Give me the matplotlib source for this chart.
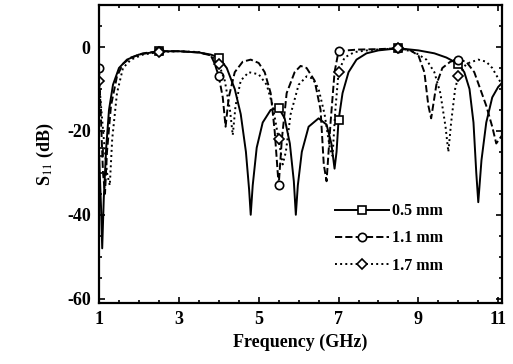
import numpy as np
import matplotlib
matplotlib.use('Agg')
import matplotlib.pyplot as plt
from matplotlib.ticker import MultipleLocator

plt.rcParams['font.family'] = ['Liberation Serif', 'DejaVu Serif']
plt.rcParams['mathtext.fontset'] = 'stix'
plt.rcParams['axes.unicode_minus'] = False

# 0.5 mm (solid, squares)
f05 = [1.0, 1.05, 1.08, 1.12, 1.18, 1.25, 1.35, 1.5, 1.7, 2.0, 2.5, 3.0, 3.5, 3.8, 4.0, 4.2, 4.4, 4.55,
       4.68, 4.76, 4.8, 4.85, 4.95, 5.1, 5.3, 5.5, 5.65, 5.78, 5.88, 5.93, 5.98, 6.08, 6.25, 6.5, 6.7,
       6.82, 6.9, 6.95, 7.0, 7.1, 7.25, 7.45, 7.7, 8.0, 8.5, 9.0, 9.4, 9.7, 10.0, 10.15, 10.28, 10.38,
       10.45, 10.5, 10.58, 10.7, 10.85, 11.0, 11.1]
s05 = [-25, -38, -48, -36, -24, -15, -9, -5, -3, -1.8, -1, -1, -1.3, -1.8, -2.5, -5, -10, -16,
       -25, -34, -40, -33, -24, -18, -15, -14.5, -17, -23, -32, -40, -33, -25, -19, -17, -18.5,
       -23, -29, -25, -17.5, -11, -6, -3, -1.5, -0.8, -0.3, -0.8, -1.5, -2.5, -4, -6, -10, -18,
       -30, -37, -27, -18, -12, -9.5, -8.5]

# 1.1 mm (dashed, circles)
f11 = [1.0, 1.04, 1.1, 1.15, 1.2, 1.3, 1.45, 1.6, 1.8, 2.1, 2.5, 3.0, 3.5, 3.8, 3.9, 4.0, 4.1, 4.17,
       4.25, 4.4, 4.6, 4.8, 5.0, 5.15, 5.3, 5.4, 5.5, 5.58, 5.7, 5.9, 6.05, 6.2, 6.4, 6.55, 6.63, 6.7,
       6.8, 6.9, 7.0, 7.2, 7.5, 8.0, 8.5, 8.8, 9.0, 9.15, 9.25, 9.32, 9.45, 9.6, 9.8, 10.0, 10.2,
       10.4, 10.55, 10.7, 10.85, 10.95, 11.1]
s11 = [-5, -15, -30, -35, -25, -14, -7, -4, -2.5, -1.5, -1, -1, -1.3, -2, -4, -7, -12, -19,
       -12, -6, -3.5, -3, -3.8, -6, -11, -20, -33, -22, -11, -6, -4.5, -5, -8, -15, -28, -32,
       -18, -6, -1, -0.8, -0.6, -0.5, -0.3, -0.8, -2, -6, -14, -17, -9, -5, -3.5, -3, -3.5,
       -6, -10, -14, -19, -23, -21]

# 1.7 mm (dotted, diamonds)
f17 = [1.0, 1.05, 1.12, 1.2, 1.27, 1.33, 1.45, 1.6, 1.8, 2.1, 2.5, 3.0, 3.5, 3.8, 4.0, 4.15, 4.28,
       4.35, 4.42, 4.55, 4.75, 5.0, 5.2, 5.35, 5.5, 5.6, 5.68, 5.8, 6.0, 6.2, 6.35, 6.5, 6.65, 6.78,
       6.85, 6.92, 7.0, 7.15, 7.4, 7.8, 8.5, 8.9, 9.2, 9.4, 9.55, 9.68, 9.75, 9.82, 9.92, 10.0,
       10.2, 10.5, 10.7, 10.85, 11.0, 11.1]
s17 = [-8, -14, -22, -30, -33, -22, -11, -5, -3, -1.8, -1.2, -1, -1.2, -2, -4, -8, -15,
       -21, -14, -8, -6, -6.5, -9, -14, -22, -28, -25, -16, -9, -7, -7.5, -10, -16, -24,
       -26, -15, -6, -2.5, -1.2, -0.7, -0.3, -1.2, -3, -6, -11, -19, -25, -18, -10, -7,
       -4, -3, -3.5, -5, -7.5, -9]

mark_f = [1.0, 2.5, 4.0, 5.5, 7.0, 8.5, 10.0]
labels = ['0.5 mm', '1.1 mm', '1.7 mm']

fig = plt.figure(figsize=(5.13, 3.64), dpi=100)
ax = fig.add_axes([0.193, 0.168, 0.786, 0.818])

series = [(f05, s05, '-', 's'), (f11, s11, '--', 'o'), (f17, s17, ':', 'D')]
for (f, s, ls, mk), lab in zip(series, labels):
    f = np.array(f)
    idx = list(np.where(np.isin(f, mark_f))[0])
    ax.plot(f, s, color='black', ls=ls, lw=1.4, marker=mk, markevery=idx,
            ms=6 if mk != 'D' else 5, mfc='white', mec='black', mew=1.2, label=lab)

ax.set_xlim(1, 11.1)
ax.set_ylim(-61, 10)
ax.set_xticks([1, 3, 5, 7, 9, 11])
ax.set_yticks([0, -20, -40, -60])
ax.xaxis.set_minor_locator(MultipleLocator(0.5))
ax.yaxis.set_minor_locator(MultipleLocator(5))
ax.tick_params(which='both', direction='in', top=True, right=True, labelsize=13, width=1.2)
ax.tick_params(which='major', length=4, pad=6)
ax.tick_params(which='minor', length=2)
for lbl in ax.get_xticklabels() + ax.get_yticklabels():
    lbl.set_fontweight('bold')
for sp in ax.spines.values():
    sp.set_linewidth(1.6)

ax.set_xlabel('Frequency (GHz)', fontsize=13, fontweight='bold', labelpad=4)
ax.set_ylabel('S$_{11}$ (dB)', fontsize=13, fontweight='bold', labelpad=8)

ax.legend(loc='lower right', bbox_to_anchor=(0.89, 0.05), frameon=False,
          prop={'size': 11.5, 'weight': 'bold'},
          handlelength=3.4, labelspacing=0.7, handletextpad=0.2)

fig.savefig('out.png', dpi=100)
